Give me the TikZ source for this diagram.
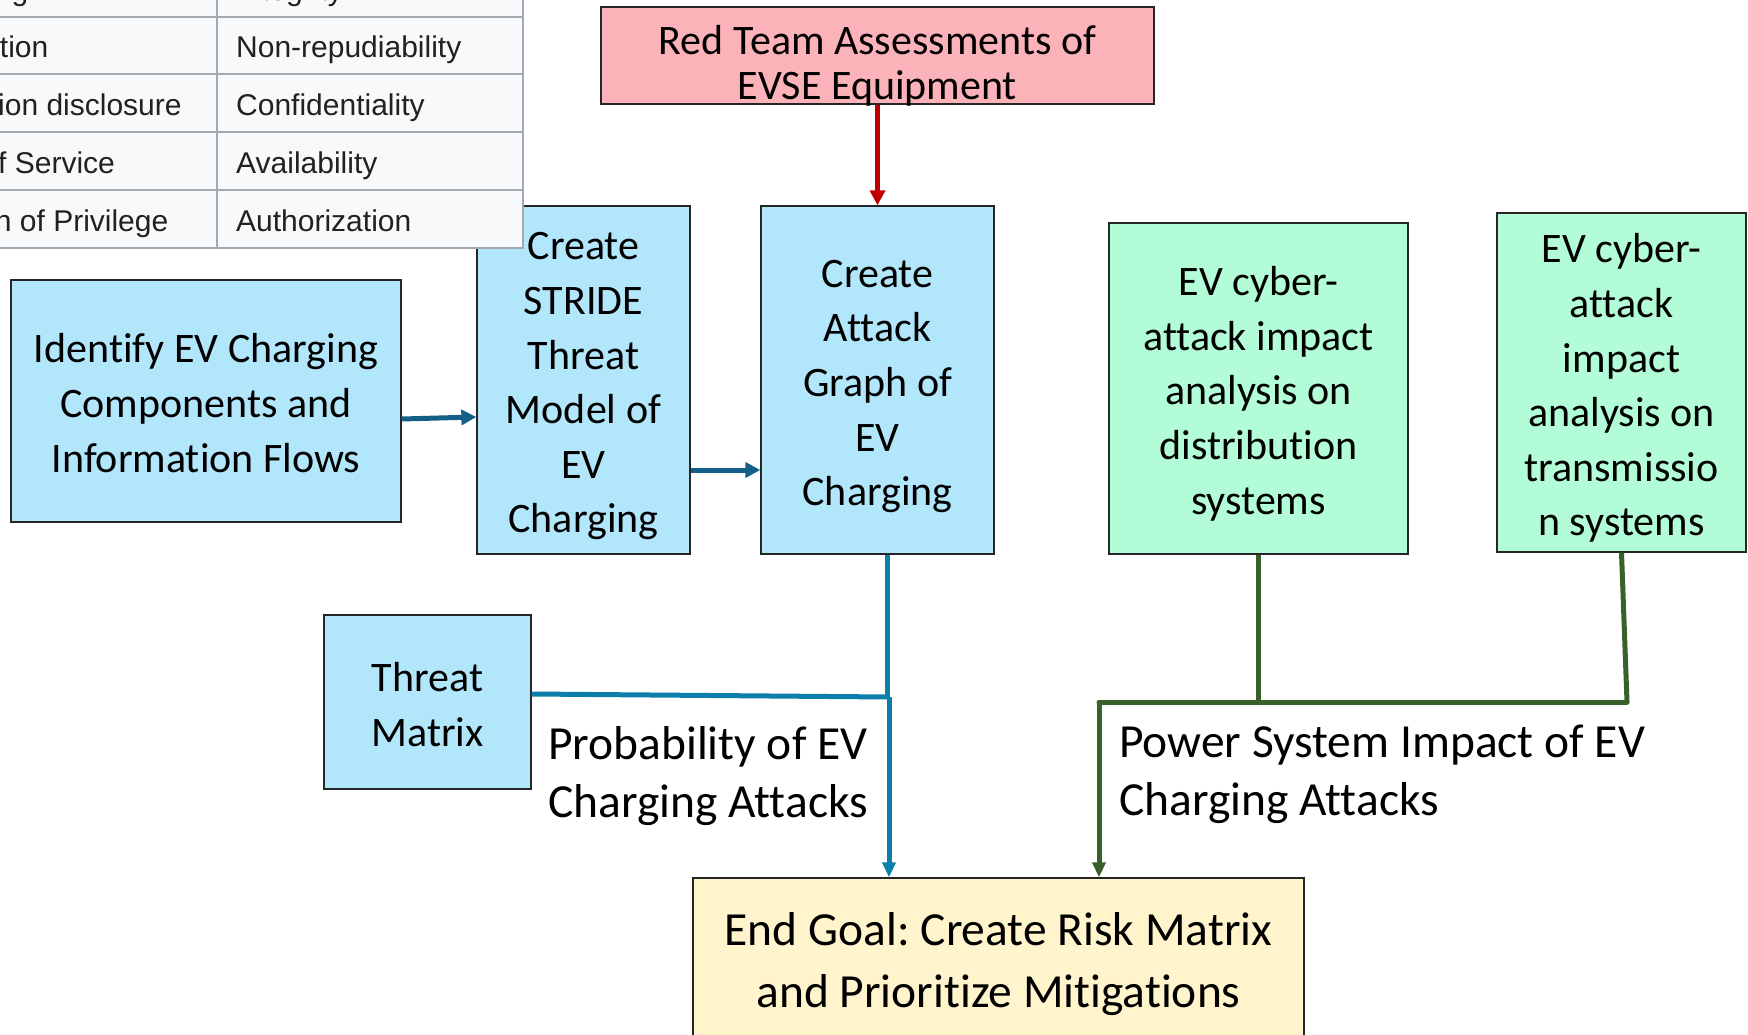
\documentclass[tikz,border=0pt]{standalone}
\usepackage{fontspec}
\setmainfont{Carlito}[Ligatures=NoCommon]
\newfontfamily\wikifont{Liberation Sans}[Ligatures=NoCommon]
\usetikzlibrary{arrows.meta,calc}
\frenchspacing

\definecolor{boxblue}{HTML}{B2E6FB}
\definecolor{boxgreen}{HTML}{B2FCD7}
\definecolor{boxred}{HTML}{FBB3B9}
\definecolor{boxyellow}{HTML}{FFF4CC}
\definecolor{flowblue}{HTML}{145F88}
\definecolor{probblue}{HTML}{0B7EA9}
\definecolor{impactgreen}{HTML}{386129}
\definecolor{redline}{HTML}{C00000}
\definecolor{tablebg}{HTML}{F8F9FA}
\definecolor{tableline}{HTML}{A2A9B1}
\definecolor{tabletext}{HTML}{202122}

% centred lines set on struts, lowered by #1 without changing the box size
\newcommand\boxlines[2][0pt]{%
  \raisebox{-#1}[\height][\depth]{\begin{tabular}{@{}c@{}}#2\end{tabular}}}

\begin{document}
\begin{tikzpicture}[x=1pt,y=-1pt,
  box/.style={draw=black!85, line width=1.3pt, inner sep=0pt,
    font=\fontsize{42}{54.6}\selectfont},
  bluebox/.style={box, fill=boxblue},
  greenbox/.style={box, fill=boxgreen},
  label/.style={anchor=north west, inner sep=0pt, align=left,
    font=\fontsize{47.5}{58}\selectfont},
  flowarrow/.style={draw=flowblue, line width=5pt, -{Triangle[length=15pt,width=15pt]}},
  probline/.style={draw=probblue, line width=5pt},
  impactline/.style={draw=impactgreen, line width=5pt},
  cell/.style={anchor=base west, inner sep=0pt, text=tabletext,
    font=\wikifont\fontsize{30}{36}\selectfont}
]
\useasboundingbox (0,0) rectangle (1748,1035);

% process boxes
\node[box, fill=boxred, minimum width=553pt, minimum height=97pt,
      font=\fontsize{42}{44.6}\selectfont] (red) at (877.5,55.5)
  {\boxlines[12.5pt]{Red Team Assessments of\\EVSE Equipment}};
\node[bluebox, minimum width=390pt, minimum height=242pt] (ident) at (206,401)
  {\boxlines[5.5pt]{Identify EV Charging\\Components and\\Information Flows}};
\node[bluebox, minimum width=213pt, minimum height=348pt] (stride) at (583.5,380)
  {\boxlines[5.5pt]{Create\\STRIDE\\Threat\\Model of\\EV\\Charging}};
\node[bluebox, minimum width=233pt, minimum height=348pt] (attack) at (877.5,380)
  {\boxlines[5.5pt]{Create\\Attack\\Graph of\\EV\\Charging}};
\node[greenbox, minimum width=299pt, minimum height=331pt] (dist) at (1258.5,388.5)
  {\boxlines[5.5pt]{EV cyber-\\attack impact\\analysis on\\distribution\\systems}};
\node[greenbox, minimum width=249pt, minimum height=339pt] (trans) at (1621.5,382.5)
  {\boxlines[6pt]{EV cyber-\\attack\\impact\\analysis on\\transmissio\\n systems}};
\node[bluebox, minimum width=207pt, minimum height=174pt] (threat) at (427.5,702)
  {\boxlines[6pt]{Threat\\Matrix}};
\node[box, fill=boxyellow, minimum width=611pt, minimum height=170pt,
      font=\fontsize{47.5}{62}\selectfont] (goal) at (998.5,963)
  {\boxlines[1pt]{End Goal: Create Risk Matrix\\and Prioritize Mitigations}};

% connector labels
\node[label] (problabel) at (548,726) {Probability of EV\\Charging Attacks};
\node[label] (impactlabel) at (1119,725) {Power System Impact of EV\\Charging Attacks};

% junction points
\coordinate (pjoin) at (889,697);
\coordinate (gleft) at (1099,702);
\coordinate (gright) at (1627,702);

% flow connectors
\draw[flowarrow] ($(ident.east)+(0,18)$) -- ($(stride.west)+(0,37)$);
\draw[flowarrow] ($(stride.east)+(0,90)$) -- ($(attack.west)+(0,90)$);
\draw[draw=redline, line width=4.5pt, -{Triangle[length=15pt,width=15pt]}]
  (red.south) -- (attack.north);

% likelihood branch
\draw[probline] (attack.south -| 887.5,0) -- (887.5,697);
\draw[probline] ($(threat.east)+(0,-8)$) -- (pjoin);
\draw[probline, -{Triangle[length=15pt,width=13pt]}] (pjoin) -- (pjoin |- goal.north);

% impact branch
\draw[impactline] (dist.south) -- (dist.south |- gleft);
\draw[impactline] (trans.south) -- (gright);
\draw[impactline, line cap=round] (gleft) -- (gright);
\draw[impactline, -{Triangle[length=15pt,width=13pt]}] (gleft) -- (gleft |- goal.north);

% STRIDE category table
\fill[tablebg] (-140,-45) rectangle (523,248);
\draw[tableline, line width=2pt]
  (-140,16.7) -- (523,16.7)
  (-140,74.5) -- (523,74.5)
  (-140,132.3) -- (523,132.3)
  (-140,190.1) -- (523,190.1)
  (217,-45) -- (217,248)
  (-140,-45) rectangle (523,248);
\node[cell] (c0a) at (-112,0.2) {Tampering};
\node[cell] (c0b) at (236,0.2) {Integrity};
\node[cell] (c1a) at (-112,58) {Repudiation};
\node[cell] (c1b) at (236,58) {Non-repudiability};
\node[cell] (c2a) at (-112,115.8) {Information disclosure};
\node[cell] (c2b) at (236,115.8) {Confidentiality};
\node[cell] (c3a) at (-112,173.6) {Denial of Service};
\node[cell] (c3b) at (236,173.6) {Availability};
\node[cell] (c4a) at (-112,231.4) {Elevation of Privilege};
\node[cell] (c4b) at (236,231.4) {Authorization};
\end{tikzpicture}
\end{document}
